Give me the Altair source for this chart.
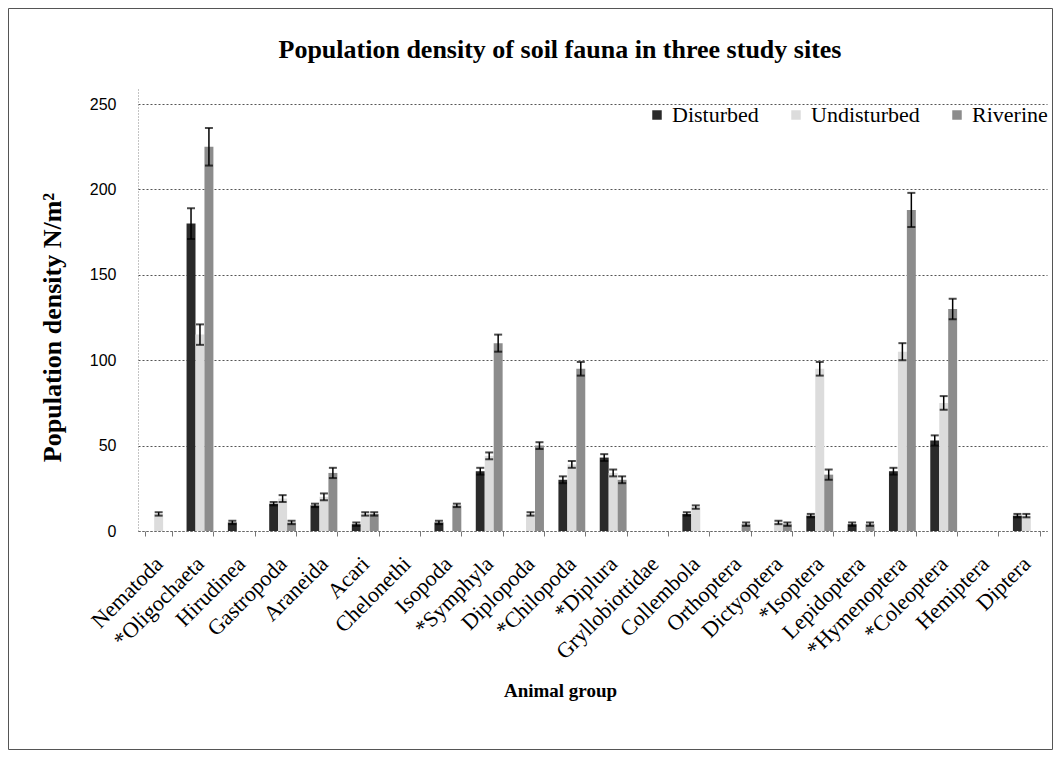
import altair as alt
import pandas as pd

categories = ["Nematoda", "*Oligochaeta", "Hirudinea", "Gastropoda", "Araneida", "Acari",
              "Chelonethi", "Isopoda", "*Symphyla", "Diplopoda", "*Chilopoda", "*Diplura",
              "Gryllobiottidae", "Collembola", "Orthoptera", "Dictyoptera", "*Isoptera",
              "Lepidoptera", "*Hymenoptera", "*Coleoptera", "Hemiptera", "Diptera"]
sites = ["Disturbed", "Undisturbed", "Riverine"]

disturbed = [0, 180, 5, 16, 15, 4, 0, 5, 35, 0, 30, 43, 0, 10, 0, 0, 9, 4, 35, 53, 0, 9]
disturbed_err = [0, 9, 1, 1, 1, 1, 0, 1, 2, 0, 2, 2, 0, 1, 0, 0, 1, 1, 2, 3, 0, 1]
undisturbed = [10, 115, 0, 19, 20, 10, 0, 0, 44, 10, 39, 34, 0, 14, 0, 5, 95, 0, 105, 75, 0, 9]
undisturbed_err = [1, 6, 0, 2, 2, 1, 0, 0, 2, 1, 2, 2, 0, 1, 0, 1, 4, 0, 5, 4, 0, 1]
riverine = [0, 225, 0, 5, 34, 10, 0, 15, 110, 50, 95, 30, 0, 0, 4, 4, 33, 4, 188, 130, 0, 0]
riverine_err = [0, 11, 0, 1, 3, 1, 0, 1, 5, 2, 4, 2, 0, 0, 1, 1, 3, 1, 10, 6, 0, 0]

title_text = "Population density of soil fauna in three study sites"
colors = ["#2a2a2a", "#dcdcdc", "#8c8c8c"]

rows = []
for site, vals, errs in [("Disturbed", disturbed, disturbed_err),
                         ("Undisturbed", undisturbed, undisturbed_err),
                         ("Riverine", riverine, riverine_err)]:
    for c, v, e in zip(categories, vals, errs):
        rows.append({"group": c, "site": site, "value": v, "err": e,
                     "lo": max(v - e, 0), "hi": v + e})
df = pd.DataFrame(rows)
df_err = df[(df["value"] > 0) & (df["err"] > 0)]

W, H = 909, 444
PL, PT, PR, PB = 130, 79, 6, 219
serif = "Liberation Serif"
sans = "Liberation Sans"

x_enc = alt.X("group:N", sort=categories,
              scale=alt.Scale(paddingInner=0.35, paddingOuter=0.175),
              axis=alt.Axis(title="Animal group", labelAngle=-45, labelAlign="right",
                            labelBaseline="middle", labelFont=serif, labelFontSize=22,
                            labelPadding=24, labelColor="black",
                            titleFont=serif, titleFontSize=19, titleFontWeight="bold",
                            titleX=422, titleY=165, titleAlign="center",
                            titleBaseline="alphabetic", titleColor="black",
                            tickBand="extent", tickSize=5, tickColor="#777",
                            domainColor="#666", domainDash=[2, 2]))
xo_enc = alt.XOffset("site:N", sort=sites)

bars = alt.Chart(df).mark_bar().encode(
    x=x_enc,
    xOffset=xo_enc,
    y=alt.Y("value:Q", scale=alt.Scale(domain=[0, 250]),
            axis=alt.Axis(title="Population density N/m²", values=[0, 50, 100, 150, 200, 250],
                          labelFont=sans, labelFontSize=16, labelColor="black", labelPadding=22,
                          ticks=False, grid=True, gridDash=[2, 2], gridColor="#555",
                          domainColor="#888", domainDash=[1, 2],
                          titleFont=serif, titleFontSize=26, titleFontWeight="bold",
                          titleX=-86, titleY=240, titleAngle=-90, titleAlign="center",
                          titleBaseline="middle", titleColor="black")),
    color=alt.Color("site:N", sort=sites,
                    scale=alt.Scale(domain=sites, range=colors),
                    legend=alt.Legend(title=None, orient="none", legendX=508, legendY=17,
                                      direction="horizontal", symbolType="square",
                                      symbolSize=90, symbolStrokeWidth=0,
                                      labelFont=serif, labelFontSize=22, labelColor="black",
                                      columnPadding=26, labelOffset=4)),
)

rules = alt.Chart(df_err).mark_rule(color="black", strokeWidth=1.5).encode(
    x=alt.X("group:N", sort=categories), xOffset=xo_enc,
    y="lo:Q", y2="hi:Q")

caps_hi = alt.Chart(df_err).mark_tick(color="black", thickness=2, size=8).encode(
    x=alt.X("group:N", sort=categories), xOffset=xo_enc, y="hi:Q")
caps_lo = alt.Chart(df_err).mark_tick(color="black", thickness=2, size=8).encode(
    x=alt.X("group:N", sort=categories), xOffset=xo_enc, y="lo:Q")

title = alt.Chart(pd.DataFrame({"t": [title_text]})).mark_text(
    font=serif, fontSize=26, fontWeight="bold", color="black",
    align="center", baseline="alphabetic").encode(
    text="t:N", x=alt.value(422), y=alt.value(-29))

border = alt.Chart(pd.DataFrame({"a": [0]})).mark_rect(
    fillOpacity=0, stroke="#555", strokeWidth=1).encode(
    x=alt.value(-PL + 0.5), x2=alt.value(W + PR - 0.5),
    y=alt.value(-PT + 0.5), y2=alt.value(H + PB - 0.5))

chart = alt.layer(bars, rules, caps_hi, caps_lo, title, border).properties(
    width=W, height=H,
    autosize=alt.AutoSizeParams(type="none"),
    padding={"left": PL, "top": PT, "right": PR, "bottom": PB},
).configure_view(stroke=None)

chart.save("out.html", embed_options={"renderer": "svg", "actions": False})
